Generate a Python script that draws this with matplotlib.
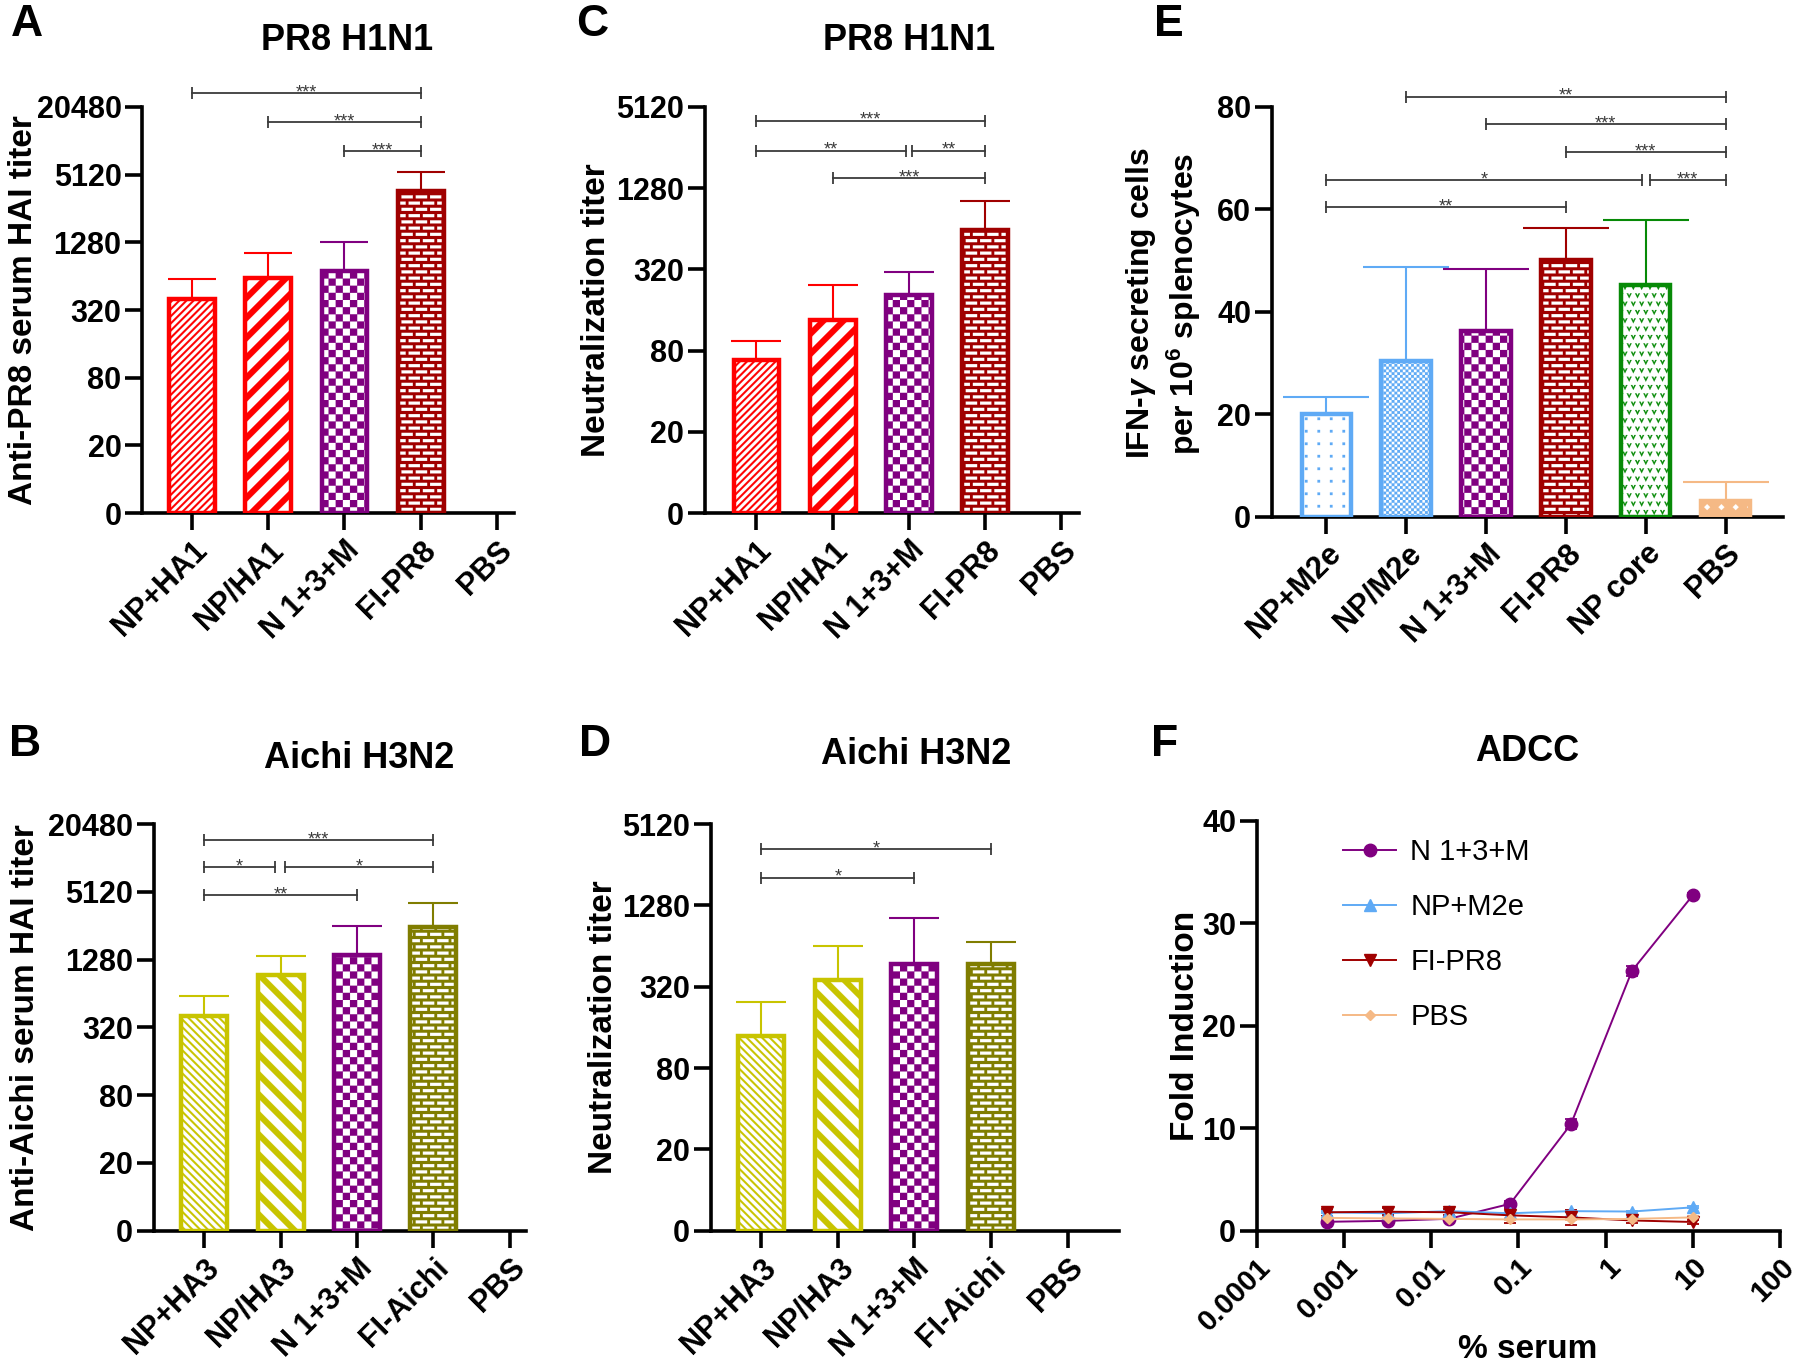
import warnings
warnings.filterwarnings('ignore')
import numpy as np
import matplotlib
matplotlib.use('Agg')
import matplotlib.pyplot as plt
import matplotlib.hatch as mhatch
from matplotlib.path import Path
from matplotlib.ticker import NullLocator

# ---------------- data ----------------
h1_groups = ["NP+HA1", "NP/HA1", "N 1+3+M", "FI-PR8", "PBS"]
h3_groups = ["NP+HA3", "NP/HA3", "N 1+3+M", "FI-Aichi", "PBS"]
ifn_groups = ["NP+M2e", "NP/M2e", "N 1+3+M", "FI-PR8", "NP core", "PBS"]

hai_pr8_mean = [403, 619, 716, 3680, np.nan]
hai_pr8_upper = [603, 1018, 1282, 5410, np.nan]
neut_pr8_mean = [68, 136, 206, 621, np.nan]
neut_pr8_upper = [94, 244, 304, 1026, np.nan]
hai_aichi_mean = [404, 939, 1410, 2480, np.nan]
hai_aichi_upper = [608, 1386, 2545, 4100, np.nan]
neut_aichi_mean = [137, 359, 473, 473, np.nan]
neut_aichi_upper = [246, 640, 1040, 689, np.nan]
ifn_mean = [20.0, 30.4, 36.3, 50.1, 45.2, 3.1]
ifn_upper = [23.3, 48.8, 48.3, 56.4, 57.9, 6.8]

serum_pct = [0.00064, 0.0032, 0.016, 0.08, 0.4, 2, 10]
adcc_labels = ["N 1+3+M", "NP+M2e", "FI-PR8", "PBS"]
adcc_n13m = [0.87, 0.96, 1.16, 2.62, 10.4, 25.35, 32.74]
adcc_n13m_sd = [0.2, 0.15, 0.2, 0.25, 0.5, 0.5, 0.2]
adcc_npm2e = [1.79, 1.70, 1.91, 1.70, 1.91, 1.87, 2.28]
adcc_npm2e_sd = [0.1, 0.1, 0.1, 0.1, 0.1, 0.1, 0.1]
adcc_fipr8 = [1.8, 1.85, 1.8, 1.5, 1.3, 1.0, 0.85]
adcc_fipr8_sd = [0.35, 0.35, 0.3, 0.7, 0.7, 0.2, 0.15]
adcc_pbs = [1.25, 1.2, 1.15, 1.1, 1.1, 1.15, 1.3]
adcc_pbs_sd = [0.1, 0.1, 0.1, 0.1, 0.1, 0.1, 0.1]

log_ticks_20480 = [5, 20, 80, 320, 1280, 5120, 20480]
log_ticks_5120 = [5, 20, 80, 320, 1280, 5120]
log_ticklabels = ["0", "20", "80", "320", "1280", "5120", "20480"]
ifn_ticks = [0, 20, 40, 60, 80]
adcc_yticks = [0, 10, 20, 30, 40]
serum_ticks = [1e-4, 1e-3, 1e-2, 1e-1, 1, 10, 100]
serum_ticklabels = ["0.0001", "0.001", "0.01", "0.1", "1", "10", "100"]

# significance brackets: (from, to, label, level)
sig_A = [(0, 3, '***', 27000), (1, 3, '***', 15000), (2, 3, '***', 8300)]
sig_C = [(0, 3, '***', 4040), (0, 1.96, '**', 2420), (2.04, 3, '**', 2420), (1, 3, '***', 1510)]
sig_B = [(0, 3, '***', 14700), (0, 0.93, '*', 8500), (1.06, 3, '*', 8500), (0, 2, '**', 4780)]
sig_D = [(0, 3, '*', 3330), (0, 2, '*', 2050)]
sig_E = [(1, 5, '**', 82.0), (2, 5, '***', 76.6), (3, 5, '***', 71.1),
         (0, 3.95, '*', 65.7), (4.05, 5, '***', 65.7), (0, 3, '**', 60.4)]

# ---------------- style ----------------
plt.rcParams['font.family'] = ['Liberation Sans', 'DejaVu Sans']
plt.rcParams['font.weight'] = 'bold'
plt.rcParams['axes.labelweight'] = 'bold'
plt.rcParams['hatch.linewidth'] = 0.1
plt.rcParams['mathtext.fontset'] = 'custom'
plt.rcParams['mathtext.rm'] = 'Liberation Sans:bold'
plt.rcParams['mathtext.bf'] = 'Liberation Sans:bold'
plt.rcParams['mathtext.it'] = 'Liberation Sans:italic'

RED = '#FF0000'; PURPLE = '#800080'; DRED = '#A00000'
YEL = '#C8C400'; OLIVE = '#807D00'; LBLUE = '#5FAAF5'
GREEN = '#078A07'; PEACH = '#F5B985'; BRK = '#3a3a3a'


# ---------------- custom fill patterns ----------------
class PolyHatch(mhatch.HatchPatternBase):
    key = None

    def __init__(self, hatch, density):
        self._polys = self.polys() if (hatch and self.key in hatch) else []
        self.num_vertices = sum(len(p) + 1 for p in self._polys)

    def set_vertices_and_codes(self, vertices, codes):
        i = 0
        for p in self._polys:
            n = len(p)
            vertices[i:i + n] = p
            vertices[i + n] = p[0]
            codes[i] = Path.MOVETO
            codes[i + 1:i + n] = Path.LINETO
            codes[i + n] = Path.CLOSEPOLY
            i += n + 1


def register(key, fn):
    cls = type('H_' + key, (PolyHatch,), {'key': key, 'polys': staticmethod(fn)})
    mhatch._hatch_types.append(cls)


def stripes(n, w, ne=True):
    def fn():
        out = []
        for k in range(-2 * n, 3 * n):
            o = k / n
            if ne:
                out.append([(o - 0.2, -0.2), (o + w - 0.2, -0.2), (o + w + 1.2, 1.2), (o + 1.2, 1.2)])
            else:
                out.append([(o + 0.2, -0.2), (o + w + 0.2, -0.2), (o + w - 1.2, 1.2), (o - 1.2, 1.2)])
        return out
    return fn


def checker(n):
    def fn():
        s = 1.0 / n
        return [[(i * s, j * s), ((i + 1) * s, j * s), ((i + 1) * s, (j + 1) * s), (i * s, (j + 1) * s)]
                for i in range(n) for j in range(n) if (i + j) % 2 == 0]
    return fn


def bricks(nr, nb, gx, gy):
    def fn():
        out = []
        h = 1.0 / nr
        bw = 1.0 / nb
        for r in range(nr):
            y0 = r * h + gy / 2
            y1 = (r + 1) * h - gy / 2
            off = 0 if r % 2 == 0 else bw / 2
            for b in range(-1, nb + 1):
                x0 = b * bw + off + gx / 2
                x1 = (b + 1) * bw + off - gx / 2
                out.append([(x0, y0), (x1, y0), (x1, y1), (x0, y1)])
        return out
    return fn


def dots(n, s):
    def fn():
        out = []
        c = 1.0 / n
        for i in range(n):
            for j in range(n):
                cx, cy = (i + 0.5) * c, (j + 0.5) * c
                out.append([(cx - s, cy - s), (cx + s, cy - s), (cx + s, cy + s), (cx - s, cy + s)])
        return out
    return fn


def vees(n, s):
    def fn():
        out = []
        c = 1.0 / n
        for j in range(n):
            off = 0 if j % 2 == 0 else c / 2
            for i in range(-1, n + 1):
                cx, cy = (i + 0.5) * c + off, (j + 0.5) * c
                out.append([(cx - s, cy + s), (cx, cy - s), (cx + s, cy + s),
                            (cx + 0.4 * s, cy + s), (cx, cy + 0.1 * s), (cx - 0.4 * s, cy + s)])
        return out
    return fn


def diamonds(n, s):
    def fn():
        out = []
        c = 1.0 / n
        for j in range(n):
            off = 0 if j % 2 == 0 else c / 2
            for i in range(-1, n + 1):
                cx, cy = (i + 0.5) * c + off, (j + 0.5) * c
                out.append([(cx - s, cy), (cx, cy - s), (cx + s, cy), (cx, cy + s)])
        return out
    return fn


register('a', stripes(14, 0.027, True))     # thin /
register('b', stripes(5, 0.085, True))      # thick /
register('d', stripes(13, 0.027, False))    # thin \
register('e', stripes(5, 0.085, False))     # thick \
register('c', checker(14))                  # checkerboard
register('f', checker(36))                  # fine checkerboard
register('k', bricks(16, 7, 0.03, 0.032))   # bricks
register('p', dots(8, 0.013))               # sparse dots
register('v', vees(12, 0.025))              # small v marks
register('g', diamonds(7, 0.03))            # small diamonds

# (face, hatch colour, hatch, edge)
STY = {
    'NP+HA1': ('white', RED, 'a', RED),
    'NP/HA1': ('white', RED, 'b', RED),
    'N 1+3+M': ('white', PURPLE, 'c', PURPLE),
    'FI-PR8': (DRED, 'white', 'k', DRED),
    'NP+HA3': ('white', YEL, 'd', YEL),
    'NP/HA3': ('white', YEL, 'e', YEL),
    'FI-Aichi': (OLIVE, 'white', 'k', OLIVE),
    'NP+M2e': ('white', LBLUE, 'p', LBLUE),
    'NP/M2e': ('white', LBLUE, 'f', LBLUE),
    'NP core': ('white', GREEN, 'v', GREEN),
    'PBS': (PEACH, 'white', 'g', PEACH),
}

W, H = 1800, 1369
fig = plt.figure(figsize=(W / 100, H / 100), dpi=100)


def axpx(x0, yt, x1, yb):
    return fig.add_axes([x0 / W, 1 - yb / H, (x1 - x0) / W, (yb - yt) / H])


def style(ax, labels, xlim):
    for s in ['top', 'right']:
        ax.spines[s].set_visible(False)
    for s in ['left', 'bottom']:
        ax.spines[s].set_linewidth(2.6)
    ax.tick_params(which='major', direction='out', length=12, width=2.6, labelsize=22, pad=3)
    ax.tick_params(axis='x', pad=4)
    ax.set_xticks(range(len(labels)))
    ax.set_xticklabels(labels, rotation=45, ha='right', va='top', rotation_mode='anchor')
    ax.set_xlim(*xlim)


def draw_bars(ax, labels, mean, upper, bottom, width, capsize):
    for xi, (lab, m, u) in enumerate(zip(labels, mean, upper)):
        if np.isnan(m):
            continue
        face, hcol, hatch, edge = STY[lab]
        ax.bar(xi, m - bottom, bottom=bottom, width=width, color=face, edgecolor=hcol,
               hatch=hatch, linewidth=0, zorder=2)
        ax.bar(xi, m - bottom, bottom=bottom, width=width, fill=False, edgecolor=edge,
               linewidth=3.2, zorder=3)
        eb = ax.errorbar(xi, m, yerr=[[0], [u - m]], fmt='none', ecolor=edge, elinewidth=1.5,
                         capsize=capsize, capthick=1.5, zorder=2.5)
        eb[1][0].set_visible(False)   # hide lower cap (upper-only error bar)


def draw_sig(ax, sigs):
    for i, j, lab, y in sigs:
        ax.plot([i, j], [y, y], color=BRK, lw=1.3, marker='|', ms=8, mew=1.3,
                clip_on=False, zorder=4)
        ax.annotate(lab, ((i + j) / 2, y), xytext=(0, -3), textcoords='offset points',
                    ha='center', va='baseline', fontsize=13, color=BRK, fontweight='normal',
                    annotation_clip=False)


def log_axis(ax, ticks):
    ax.set_yscale('log', base=4)
    ax.set_ylim(ticks[0], ticks[-1])
    ax.set_yticks(ticks)
    ax.set_yticklabels(log_ticklabels[:len(ticks)])
    ax.yaxis.set_minor_locator(NullLocator())


def ylab(ax, text, x, y=0.5, size=24):
    ax.set_ylabel(text, fontsize=size, va='center')
    ax.yaxis.set_label_coords(x, y)


# Panel A
axA = axpx(142.4, 106.8, 514, 513.2)
log_axis(axA, log_ticks_20480)
style(axA, h1_groups, (-0.646, 4.22))
draw_bars(axA, h1_groups, hai_pr8_mean, hai_pr8_upper, 5, 0.6, 17)
draw_sig(axA, sig_A)
ylab(axA, "Anti-PR8 serum HAI titer", -0.32)

# Panel C
axC = axpx(705, 106.8, 1079, 513.2)
log_axis(axC, log_ticks_5120)
style(axC, h1_groups, (-0.675, 4.23))
draw_bars(axC, h1_groups, neut_pr8_mean, neut_pr8_upper, 5, 0.6, 18)
draw_sig(axC, sig_C)
ylab(axC, "Neutralization titer", -0.289)

# Panel E
axE = axpx(1272, 106.8, 1783, 516.6)
axE.set_ylim(0, 80)
axE.set_yticks(ifn_ticks)
style(axE, ifn_groups, (-0.68, 5.72))
draw_bars(axE, ifn_groups, ifn_mean, ifn_upper, 0, 0.62, 31)
draw_sig(axE, sig_E)
ylab(axE, "IFN-$\\gamma$ secreting cells\nper 10$^{\\mathbf{6}}$ splenocytes", -0.212, 0.52, 23)
axE.yaxis.label.set_linespacing(1.25)

# Panel B
axB = axpx(153.8, 824, 525.8, 1230.7)
log_axis(axB, log_ticks_20480)
style(axB, h3_groups, (-0.66, 4.21))
draw_bars(axB, h3_groups, hai_aichi_mean, hai_aichi_upper, 5, 0.6, 18)
draw_sig(axB, sig_B)
ylab(axB, "Anti-Aichi serum HAI titer", -0.345)

# Panel D
axD = axpx(710.6, 824, 1119, 1230.7)
log_axis(axD, log_ticks_5120)
style(axD, h3_groups, (-0.66, 4.67))
draw_bars(axD, h3_groups, neut_aichi_mean, neut_aichi_upper, 5, 0.6, 18)
draw_sig(axD, sig_D)
ylab(axD, "Neutralization titer", -0.263)

# Panel F
axF = axpx(1257, 820.8, 1780, 1230.7)
for s in ['top', 'right']:
    axF.spines[s].set_visible(False)
for s in ['left', 'bottom']:
    axF.spines[s].set_linewidth(2.6)
axF.set_xscale('log')
axF.set_xlim(1e-4, 100)
axF.set_ylim(0, 40)
axF.set_yticks(adcc_yticks)
axF.set_xticks(serum_ticks)
axF.set_xticklabels(serum_ticklabels, rotation=45, ha='right', va='top', rotation_mode='anchor')
axF.xaxis.set_minor_locator(NullLocator())
axF.tick_params(which='major', direction='out', length=12, width=2.6, labelsize=22, pad=3)
axF.tick_params(axis='x', pad=4, labelsize=21)

series = [
    (adcc_n13m, adcc_n13m_sd, PURPLE, 'o', 9),
    (adcc_npm2e, adcc_npm2e_sd, LBLUE, '^', 8),
    (adcc_fipr8, adcc_fipr8_sd, DRED, 'v', 8),
    (adcc_pbs, adcc_pbs_sd, PEACH, 'D', 5.5),
]
handles = []
for (y, sd, col, mk, ms), lab in zip(series, adcc_labels):
    axF.errorbar(serum_pct, y, yerr=sd, fmt='none', ecolor=col, elinewidth=1.3,
                 capsize=4, capthick=1.3, zorder=3)
    h, = axF.plot(serum_pct, y, color=col, marker=mk, ms=ms, lw=1.4, zorder=4, label=lab)
    handles.append(h)
axF.legend(handles=handles, loc='upper left', bbox_to_anchor=(0.165, 0.958), frameon=False,
           borderpad=0, borderaxespad=0, handlelength=1.8, handletextpad=0.5,
           labelspacing=0.93, prop={'family': 'Liberation Sans', 'size': 21, 'weight': 'normal'})
ylab(axF, "Fold Induction", -0.137)
axF.set_xlabel("% serum", fontsize=24, va='center')
axF.xaxis.set_label_coords(0.518, -0.289)

# titles & panel letters
def ftext(x, y, s, size):
    fig.text(x / W, 1 - y / H, s, fontsize=size, fontweight='bold', ha='center', va='center')

ftext(347, 40, "PR8 H1N1", 26)
ftext(909, 40, "PR8 H1N1", 26)
ftext(359, 758, "Aichi H3N2", 26)
ftext(916, 755, "Aichi H3N2", 26)
ftext(1527, 752, "ADCC", 26)
for letter, (x, y) in zip("ACEBDF", [(27, 25), (592, 25), (1169, 25), (25, 744), (595, 744), (1165, 744)]):
    ftext(x, y, letter, 32)

fig.savefig('out.png', dpi=100)
